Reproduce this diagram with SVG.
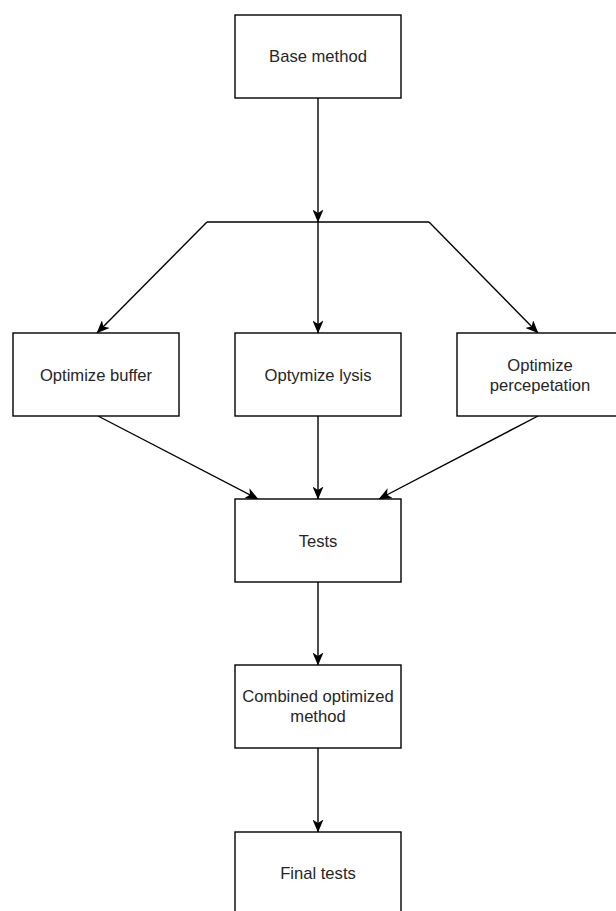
<svg xmlns="http://www.w3.org/2000/svg" width="616" height="911" viewBox="0 0 616 911">
<defs>
<style>
.box{fill:#ffffff;stroke:#000000;stroke-width:1.4}
.lbl{font-family:"Liberation Sans",Arial,Helvetica,sans-serif;font-size:16.6px;fill:#262626;text-anchor:middle}
.edge{fill:none;stroke:#000000;stroke-width:1.4}
</style>
<marker id="arr" markerUnits="userSpaceOnUse" markerWidth="13" markerHeight="11" viewBox="0 0 13 11" refX="12.5" refY="5.5" orient="auto">
<path d="M0,0 L13,5.5 L0,11 L3.5,5.5 Z" fill="#000000"/>
</marker>
</defs>
<rect width="616" height="911" fill="#ffffff"/>
<g id="connectors">
<path class="edge" d="M318,97 L318,222" marker-end="url(#arr)"/>
<path class="edge" d="M207,222 L429,222"/>
<path class="edge" d="M207,222 L97,333" marker-end="url(#arr)"/>
<path class="edge" d="M318,222 L318,333" marker-end="url(#arr)"/>
<path class="edge" d="M429,222 L538,333" marker-end="url(#arr)"/>
<path class="edge" d="M98,416 L258,499" marker-end="url(#arr)"/>
<path class="edge" d="M318,416 L318,499" marker-end="url(#arr)"/>
<path class="edge" d="M538,416 L379,499" marker-end="url(#arr)"/>
<path class="edge" d="M318,582 L318,665" marker-end="url(#arr)"/>
<path class="edge" d="M318,748 L318,832" marker-end="url(#arr)"/>
</g>
<g id="base-method">
<rect class="box" x="235" y="15" width="166" height="83"/>
<text class="lbl" x="318" y="62">Base method</text>
</g>
<g id="optimize-buffer">
<rect class="box" x="13" y="333" width="166" height="83"/>
<text class="lbl" x="96" y="381">Optimize buffer</text>
</g>
<g id="optymize-lysis">
<rect class="box" x="235" y="333" width="166" height="83"/>
<text class="lbl" x="318" y="381">Optymize lysis</text>
</g>
<g id="optimize-percepetation">
<rect class="box" x="457" y="333" width="166" height="83"/>
<text class="lbl" x="540" y="371">Optimize</text>
<text class="lbl" x="540" y="391">percepetation</text>
</g>
<g id="tests">
<rect class="box" x="235" y="499" width="166" height="83"/>
<text class="lbl" x="318" y="547">Tests</text>
</g>
<g id="combined-optimized-method">
<rect class="box" x="235" y="665" width="166" height="83"/>
<text class="lbl" x="318" y="702">Combined optimized</text>
<text class="lbl" x="318" y="722">method</text>
</g>
<g id="final-tests">
<rect class="box" x="235" y="832" width="166" height="83"/>
<text class="lbl" x="318" y="879">Final tests</text>
</g>
</svg>
